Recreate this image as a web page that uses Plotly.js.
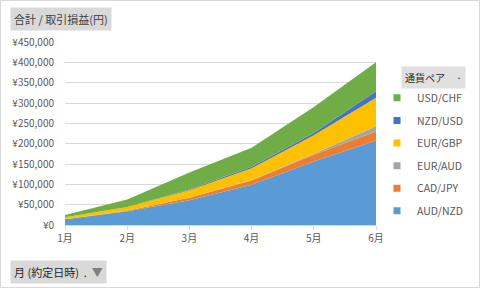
<!DOCTYPE html>
<html><head><meta charset="utf-8">
<script src="https://cdn.plot.ly/plotly-3.0.1.min.js"></script>
<style>
html,body{margin:0;padding:0;background:#fff;}
#frame{position:absolute;left:0;top:0;width:480px;height:288px;box-sizing:border-box;border:1px solid #D9D9D9;}
#chart{position:absolute;left:0;top:0;width:480px;height:288px;}
</style></head>
<body><div id="frame"></div><div id="chart"></div>
<script>
const months = ['1月','2月','3月','4月','5月','6月'];
const seriesNames = ['AUD/NZD','CAD/JPY','EUR/AUD','EUR/GBP','NZD/USD','USD/CHF'];
const audNzd = [14000, 34000, 61000, 99000, 156000, 208000];
const cadJpy = [0, 1000, 6000, 10500, 17000, 22000];
const eurAud = [0, 0, 500, 1000, 2500, 13000];
const eurGbp = [5000, 9000, 18000, 29000, 45000, 70000];
const nzdUsd = [0, 500, 1500, 4000, 6000, 16000];
const usdChf = [5500, 18500, 42000, 46500, 63500, 71000];
const seriesValues = [audNzd, cadJpy, eurAud, eurGbp, nzdUsd, usdChf];
const colors = ['#5B9BD5','#ED7D31','#A5A5A5','#FFC000','#4472C4','#70AD47'];

const font = '"Noto Sans CJK JP", "Noto Sans", sans-serif';
const areaTraces = seriesNames.map((n,i)=>({
  type:'scatter', mode:'lines', x:months, y:seriesValues[i], name:n,
  stackgroup:'one', line:{width:0, color:colors[i]}, fillcolor:colors[i],
  showlegend:false, hoverinfo:'skip'
}));
// legend entries (square swatches, Excel style), top entry = last series
const legendTraces = seriesNames.map((n,i)=>i).reverse().map(i=>({
  type:'scatter', mode:'markers', x:[null], y:[null], name:seriesNames[i],
  marker:{symbol:'square', size:7, color:colors[i]},
  legendgroup:'g'+i, showlegend:true
}));

const layout = {
  width:480, height:288,
  margin:{l:65, r:103, t:42, b:63},
  paper_bgcolor:'rgba(0,0,0,0)', plot_bgcolor:'rgba(0,0,0,0)',
  font:{family:font, size:10, color:'#595959'},
  showlegend:true,
  legend:{x:1.0, xanchor:'left', y:0.774, yanchor:'top', traceorder:'grouped',
    tracegroupgap:3.6, font:{size:10.5, color:'#595959'}, itemwidth:30},
  xaxis:{type:'category', range:[0,5], showgrid:false, showline:true, linecolor:'#D9D9D9',
    ticks:'outside', ticklen:4, tickcolor:'#D9D9D9', tickfont:{size:10, color:'#595959'}, fixedrange:true},
  yaxis:{range:[0,450000], dtick:50000, tickprefix:'¥', tickformat:',', gridcolor:'#D9D9D9',
    zeroline:false, showline:false, ticks:'', ticklabelstandoff:10, tickfont:{size:10, color:'#595959'}},
  annotations:[
    {text:'合計 / 取引損益(円)', xref:'paper', yref:'paper', x:-0.177, y:1.128, xanchor:'left', yanchor:'middle',
      showarrow:false, bgcolor:'#D9D9D9', borderpad:3, font:{size:11, color:'#404040'}},
    {text:'通貨ペア     ·', xref:'paper', yref:'paper', x:1.08, y:0.806, xanchor:'left', yanchor:'middle',
      showarrow:false, bgcolor:'#E0E0E0', borderpad:3, font:{size:10, color:'#262626'}},
    {text:'月 (約定日時)  .  <span style="color:#7F7F7F">▼</span>', xref:'paper', yref:'paper', x:-0.177, y:-0.255, xanchor:'left', yanchor:'middle',
      showarrow:false, bgcolor:'#D9D9D9', borderpad:3, font:{size:11, color:'#262626'}}
  ]
};
Plotly.newPlot('chart', areaTraces.concat(legendTraces), layout, {displayModeBar:false, staticPlot:true});
</script></body></html>
